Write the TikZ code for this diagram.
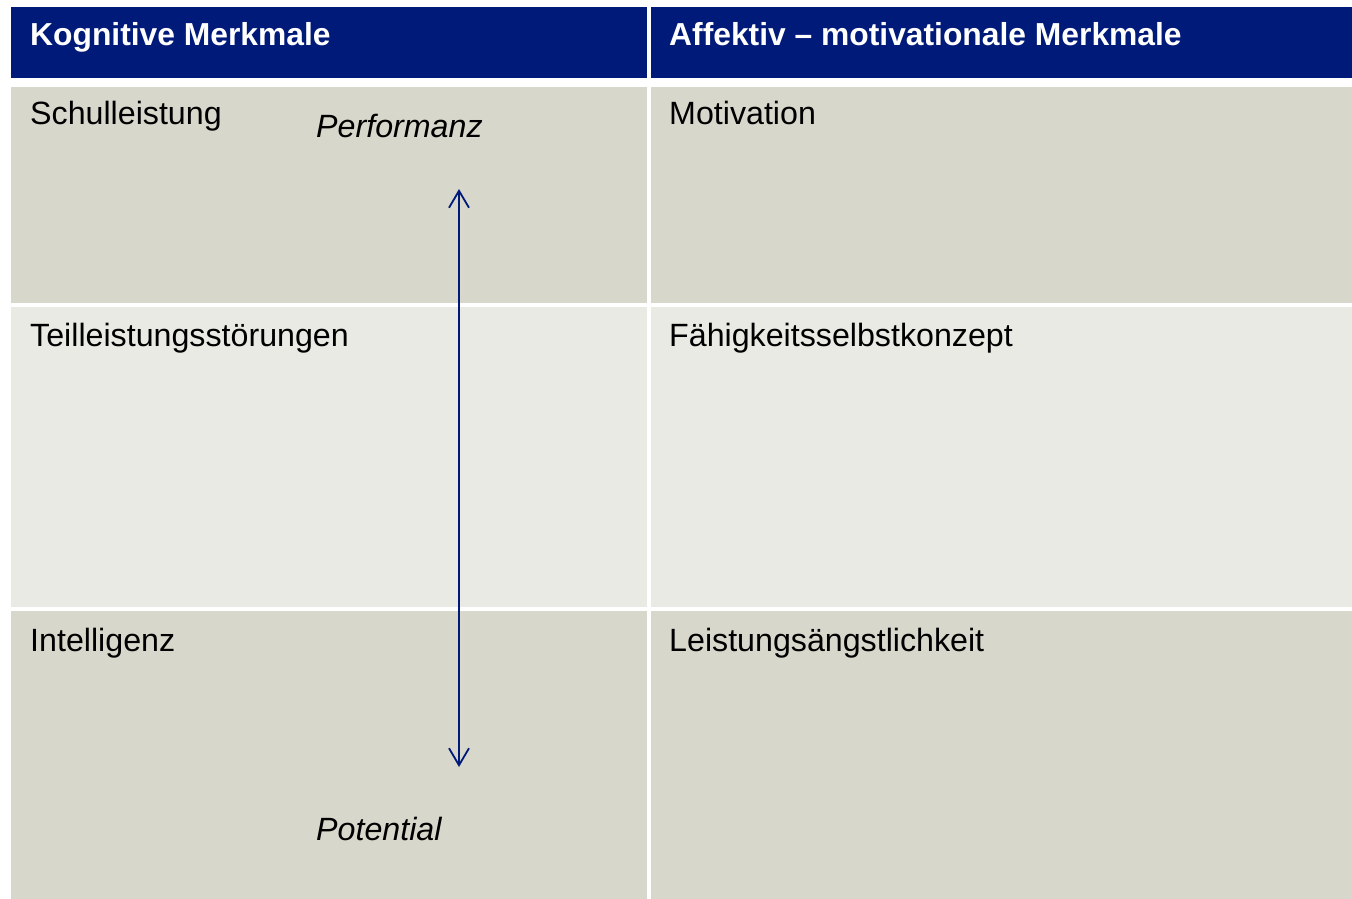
\documentclass[tikz,border=0pt]{standalone}
\usepackage{fontspec}
\setmainfont{Liberation Sans}
\usepackage{tikz}
\usetikzlibrary{arrows.meta}
\definecolor{headBlue}{RGB}{0,26,122}
\definecolor{cellDark}{RGB}{215,215,203}
\definecolor{cellLight}{RGB}{234,234,228}
\tikzstyle{headCell}=[shape = rectangle, anchor = north west, inner sep = 0pt, fill = headBlue]
\tikzstyle{bodyCell}=[shape = rectangle, anchor = north west, inner sep = 0pt]
\tikzstyle{labelText}=[anchor = base west, inner sep = 0pt, font = \fontsize{32.2}{38}\selectfont]

\begin{document}
\begin{tikzpicture}[x = 1pt, y = -1pt]
\tikzstyle{headText}=[labelText, text = white, font = \fontsize{31.8}{38}\selectfont\bfseries]
\tikzstyle{axisText}=[labelText, font = \fontsize{32.2}{38}\selectfont\itshape]
\useasboundingbox (0,0) rectangle (1352,899);
\fill[white] (0,0) rectangle (1352,899);
% header row
\node[headCell, minimum width = 636pt, minimum height = 71pt] (h1) at (11,7) {};
\node[headCell, minimum width = 701pt, minimum height = 71pt] (h2) at (651,7) {};
% body cells
\node[bodyCell, fill = cellDark, minimum width = 636pt, minimum height = 216pt] (c11) at (11,87) {};
\node[bodyCell, fill = cellDark, minimum width = 701pt, minimum height = 216pt] (c12) at (651,87) {};
\node[bodyCell, fill = cellLight, minimum width = 636pt, minimum height = 300pt] (c21) at (11,307) {};
\node[bodyCell, fill = cellLight, minimum width = 701pt, minimum height = 300pt] (c22) at (651,307) {};
\node[bodyCell, fill = cellDark, minimum width = 636pt, minimum height = 288pt] (c31) at (11,611) {};
\node[bodyCell, fill = cellDark, minimum width = 701pt, minimum height = 288pt] (c32) at (651,611) {};
% texts
\node[headText] (kog) at (30,46) {Kognitive Merkmale};
\node[headText] (aff) at (669,46) {Affektiv -- motivationale Merkmale};
\node[labelText] (schul) at (30,124) {Schulleistung};
\node[labelText] (teil) at (30,346) {Teilleistungsstörungen};
\node[labelText] (intel) at (30,651) {Intelligenz};
\node[labelText] (moti) at (669,124) {Motivation};
\node[labelText] (faeh) at (669,346) {Fähigkeitsselbstkonzept};
\node[labelText] (angst) at (669,651) {Leistungsängstlichkeit};
\node[axisText] (perf) at (316,137) {Performanz};
\node[axisText] (pot) at (316,840) {Potential};
% arrow
\coordinate (arrTop) at (459,189);
\coordinate (arrBot) at (459,767);
\draw[headBlue, line width = 1.8pt, {Straight Barb[length = 17pt, width = 20pt, line width = 1.8pt]}-{Straight Barb[length = 17pt, width = 20pt, line width = 1.8pt]}] (arrTop) -- (arrBot);
\end{tikzpicture}
\end{document}
